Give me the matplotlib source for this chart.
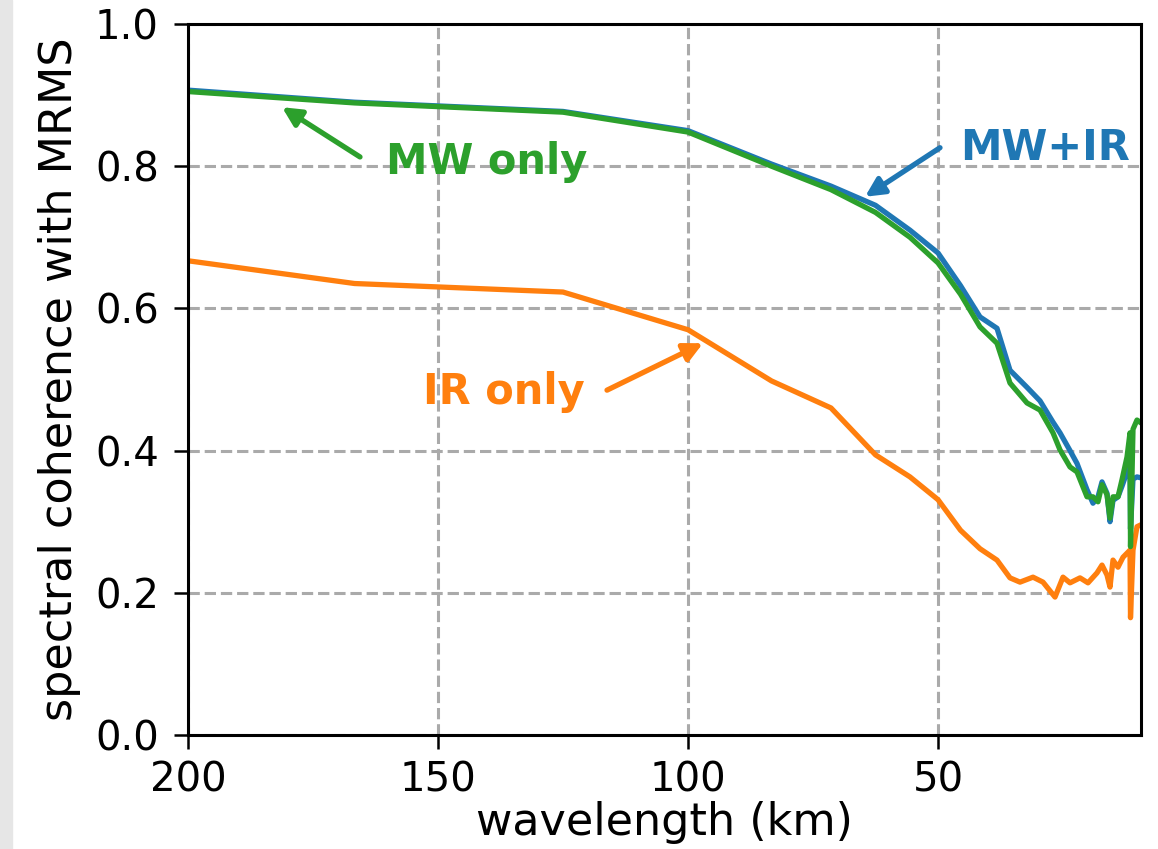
import numpy as np
import matplotlib
matplotlib.use('Agg')
from matplotlib import pyplot as plt
from matplotlib.patches import Rectangle

# wavelength (km) and coherence
wl_mw = [200, 166.7, 125, 100, 83.3, 71.4, 62.5, 55.6, 50, 45.5, 41.6, 38.2, 35.6,
         32.2, 29.6, 27.0, 25.6, 23.6, 22.2, 20.2, 19.0, 18.0, 17.2, 16.2, 15.6,
         15.0, 14.0, 13.2, 12.2, 11.6, 11.5, 11.0, 10.2, 9.6]
mw_only = [0.905, 0.889, 0.876, 0.848, 0.800, 0.767, 0.735, 0.700, 0.664, 0.620, 0.574,
           0.551, 0.495, 0.467, 0.457, 0.425, 0.401, 0.377, 0.370, 0.335, 0.335, 0.328,
           0.352, 0.338, 0.305, 0.335, 0.335, 0.359, 0.391, 0.425, 0.265, 0.430, 0.443, 0.440]
mw_ir = [0.907, 0.890, 0.877, 0.850, 0.803, 0.772, 0.745, 0.710, 0.678, 0.632, 0.588,
         0.572, 0.513, 0.489, 0.470, 0.440, 0.425, 0.400, 0.382, 0.345, 0.326, 0.335,
         0.356, 0.340, 0.300, 0.330, 0.335, 0.350, 0.370, 0.380, 0.290, 0.360, 0.363, 0.362]

wl_ir = [200, 166.7, 125, 100, 83.3, 71.4, 62.5, 55.6, 50, 45.5, 41.6, 38.2, 35.6,
         33.6, 31.0, 29.0, 26.6, 25.0, 23.6, 21.6, 20.0, 18.2, 17.2, 16.2, 15.6,
         15.0, 14.0, 13.0, 11.6, 11.5, 11.0, 10.2, 9.6]
ir_only = [0.667, 0.635, 0.623, 0.570, 0.498, 0.460, 0.394, 0.363, 0.331, 0.288, 0.262,
           0.246, 0.221, 0.215, 0.222, 0.215, 0.194, 0.222, 0.214, 0.221, 0.214, 0.228,
           0.239, 0.225, 0.208, 0.246, 0.236, 0.250, 0.260, 0.165, 0.260, 0.293, 0.295]

blue, orange, green = '#1f77b4', '#ff7f0e', '#2ca02c'

fig = plt.figure(figsize=(11.58, 8.49), dpi=100)
fig.patches.append(Rectangle((0, 0), 12/1158, 1, transform=fig.transFigure,
                             color='#e6e6e6', zorder=-1))
ax = fig.add_axes([188/1158, 114/849, 953/1158, 711/849])

ax.plot(wl_mw, mw_ir, color=blue, lw=3.8)
ax.plot(wl_ir, ir_only, color=orange, lw=3.8)
ax.plot(wl_mw, mw_only, color=green, lw=3.8)

ax.set_xlim(200, 9.4)
ax.set_ylim(0, 1)
ax.set_xticks([200, 150, 100, 50])
ax.set_yticks([0, 0.2, 0.4, 0.6, 0.8, 1.0])
ax.grid(True, ls='--', color='#aaaaaa', lw=2.2)
ax.tick_params(labelsize=29, length=10, width=1.8)
ax.tick_params(axis='y', pad=11)
ax.tick_params(axis='x', pad=8)
for s in ax.spines.values():
    s.set_linewidth(2.2)

ax.set_xlabel('wavelength (km)', fontsize=32, labelpad=1)
ax.set_ylabel('spectral coherence with MRMS', fontsize=32, labelpad=10)

arw = dict(arrowstyle='-|>', lw=3.8, mutation_scale=28, shrinkA=0, shrinkB=0)
ax.annotate('', xy=(181.2, 0.883), xytext=(165.6, 0.813), arrowprops=dict(arw, color=green))
ax.text(140.2, 0.806, 'MW only', color=green, fontsize=30, fontweight='bold', ha='center', va='center')
ax.annotate('', xy=(64.6, 0.757), xytext=(49.6, 0.826), arrowprops=dict(arw, color=blue))
ax.text(28.6, 0.826, 'MW+IR', color=blue, fontsize=30, fontweight='bold', ha='center', va='center')
ax.annotate('', xy=(97, 0.551), xytext=(116.2, 0.485), arrowprops=dict(arw, color=orange))
ax.text(136.8, 0.482, 'IR only', color=orange, fontsize=30, fontweight='bold', ha='center', va='center')

fig.savefig('out.png', dpi=100)
